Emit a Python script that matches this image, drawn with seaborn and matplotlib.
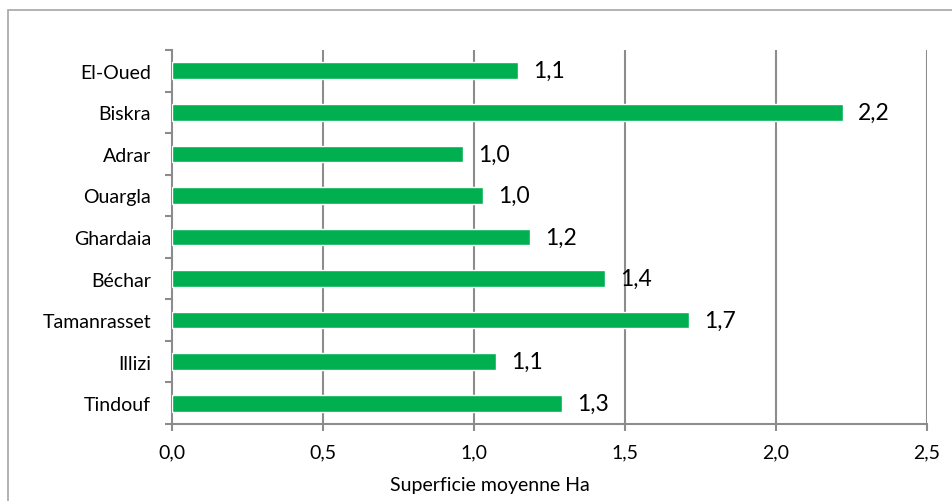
import matplotlib
matplotlib.use("Agg")
import matplotlib.pyplot as plt
from matplotlib.patches import Rectangle
import seaborn as sns
import pandas as pd

wilayas = ["El-Oued", "Biskra", "Adrar", "Ouargla", "Ghardaia",
           "Béchar", "Tamanrasset", "Illizi", "Tindouf"]
superficie = [1.146, 2.222, 0.963, 1.030, 1.186, 1.434, 1.712, 1.073, 1.291]
xticks = [0.0, 0.5, 1.0, 1.5, 2.0, 2.5]
xtick_labels = ["0,0", "0,5", "1,0", "1,5", "2,0", "2,5"]
axis_title = "Superficie moyenne Ha"

df = pd.DataFrame({"wilaya": wilayas, "superficie": superficie})

sns.set_theme(style="white")
plt.rcParams["font.family"] = ["Lato", "DejaVu Sans"]

grid_col = "#8c8c8c"
fig = plt.figure(figsize=(9.53, 5.02), dpi=100)
ax = fig.add_axes([172 / 953, 1 - 425 / 502, 755 / 953, 374 / 502])

sns.barplot(data=df, x="superficie", y="wilaya", orient="h",
            color="#00b050", saturation=1, width=0.4, ax=ax, zorder=3)

ax.set_xlim(0, 2.5)
ax.set_ylim(len(wilayas) - 0.5, -0.5)
ax.set_xticks(xticks)
ax.set_xticklabels(xtick_labels, fontsize=14, color="#000000")
ax.tick_params(axis="y", labelsize=14, colors="#000000")
ax.set_ylabel("")
ax.set_xlabel(axis_title, fontsize=14, color="#000000")
ax.xaxis.set_label_coords(0.421, -0.14)

# vertical gridlines
for xv in xticks[1:]:
    ax.axvline(xv, color=grid_col, lw=1.5, zorder=1)

for side in ["top", "right"]:
    ax.spines[side].set_visible(False)
for side in ["left", "bottom"]:
    ax.spines[side].set_color(grid_col)
    ax.spines[side].set_linewidth(1.5)

# category boundary ticks on y, value ticks on x
ax.set_yticks(range(len(wilayas)))
ax.set_yticks([i - 0.5 for i in range(len(wilayas) + 1)], minor=True)
ax.tick_params(axis="y", which="major", length=0, pad=15)
ax.tick_params(axis="y", which="minor", length=5, width=1.5, color=grid_col,
               direction="out", left=True)
ax.tick_params(axis="x", which="major", length=5, width=1.5, color=grid_col,
               direction="out", bottom=True, pad=9)

# value labels
for i, v in enumerate(superficie):
    ax.annotate(f"{v:.1f}".replace(".", ","), xy=(v, i), xytext=(11, 0),
                textcoords="offset points", va="center", ha="left",
                fontsize=16.5, color="#000000")

# chart frame
fig.patches.append(Rectangle((8 / 953, -0.05), 1.1, 1 - 11 / 502 + 0.05,
                             transform=fig.transFigure, fill=False,
                             edgecolor="#a6a6a6", lw=1.2, clip_on=False))

fig.savefig("out.png", dpi=100)
